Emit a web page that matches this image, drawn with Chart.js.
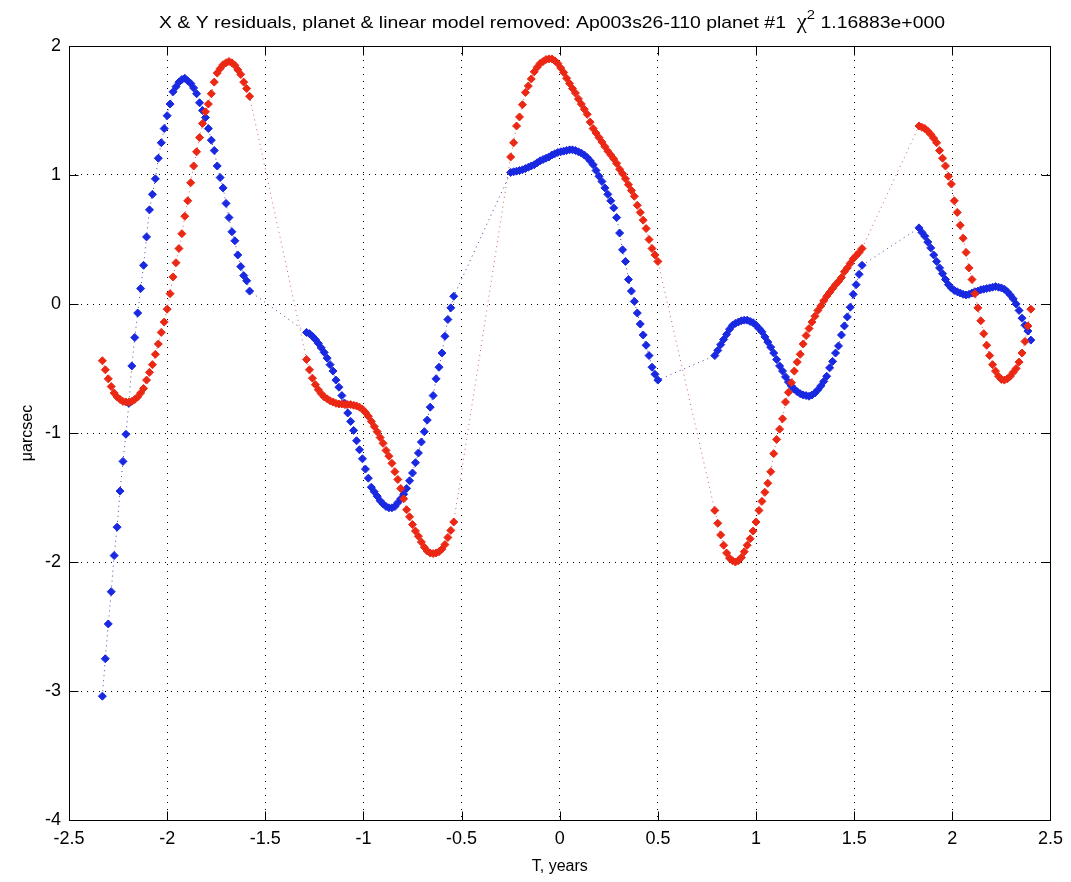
<!DOCTYPE html>
<html>
<head>
<meta charset="utf-8">
<title>X &amp; Y residuals</title>
<script src="https://cdn.jsdelivr.net/npm/chart.js@4.4.0/dist/chart.umd.min.js"></script>
<style>
  html, body { margin: 0; padding: 0; background: #fff; }
  canvas { display: block; }
</style>
</head>
<body>
<canvas id="grafica" width="1071" height="882"></canvas>
<script>
// Epocas de observacion (anos), cinco ventanas
const epocas = [
  -2.33,-2.315,-2.3,-2.285,-2.27,-2.255,-2.24,-2.225,-2.21,-2.195,
  -2.18,-2.165,-2.15,-2.135,-2.12,-2.105,-2.09,-2.075,-2.06,-2.045,
  -2.03,-2.015,-2,-1.985,-1.97,-1.955,-1.94,-1.925,-1.91,-1.895,
  -1.88,-1.865,-1.85,-1.835,-1.82,-1.805,-1.79,-1.775,-1.76,-1.745,
  -1.73,-1.715,-1.7,-1.685,-1.67,-1.655,-1.64,-1.625,-1.61,-1.595,-1.58,

  -1.29,-1.275,-1.26,-1.245,-1.23,-1.215,-1.2,-1.185,-1.17,-1.155,
  -1.14,-1.125,-1.11,-1.095,-1.08,-1.065,-1.05,-1.035,-1.02,-1.005,
  -0.99,-0.975,-0.96,-0.945,-0.93,-0.915,-0.9,-0.885,-0.87,-0.855,
  -0.84,-0.825,-0.81,-0.795,-0.78,-0.765,-0.75,-0.735,-0.72,-0.705,
  -0.69,-0.675,-0.66,-0.645,-0.63,-0.615,-0.6,-0.585,-0.57,-0.555,-0.54,

  -0.25,-0.235,-0.22,-0.205,-0.19,-0.175,-0.16,-0.145,-0.13,-0.115,
  -0.1,-0.085,-0.07,-0.055,-0.04,-0.025,-0.01,0.005,0.02,0.035,
  0.05,0.065,0.08,0.095,0.11,0.125,0.14,0.155,0.17,0.185,
  0.2,0.215,0.23,0.245,0.26,0.275,0.29,0.305,0.32,0.335,
  0.35,0.365,0.38,0.395,0.41,0.425,0.44,0.455,0.47,0.485,0.5,

  0.79,0.805,0.82,0.835,0.85,0.865,0.88,0.895,0.91,0.925,
  0.94,0.955,0.97,0.985,1,1.015,1.03,1.045,1.06,1.075,
  1.09,1.105,1.12,1.135,1.15,1.165,1.18,1.195,1.21,1.225,
  1.24,1.255,1.27,1.285,1.3,1.315,1.33,1.345,1.36,1.375,
  1.39,1.405,1.42,1.435,1.45,1.465,1.48,1.495,1.51,1.525,1.54,

  1.83,1.845,1.86,1.875,1.89,1.905,1.92,1.935,1.95,1.965,
  1.98,1.995,2.01,2.025,2.04,2.055,2.07,2.085,2.1,2.115,
  2.13,2.145,2.16,2.175,2.19,2.205,2.22,2.235,2.25,2.265,
  2.28,2.295,2.31,2.325,2.34,2.355,2.37,2.385,2.4
];

// Residuo en X (azul), microarcsec
const residuoX = [
  -3.04,-2.75,-2.48,-2.23,-1.95,-1.73,-1.45,-1.22,-1.01,-0.77,
  -0.48,-0.26,-0.07,0.12,0.30,0.52,0.73,0.85,0.97,1.13,
  1.25,1.36,1.46,1.55,1.645,1.685,1.72,1.74,1.75,1.73,
  1.71,1.675,1.63,1.56,1.50,1.445,1.36,1.27,1.19,1.07,
  0.98,0.90,0.78,0.67,0.56,0.49,0.38,0.29,0.22,0.18,0.10,

  -0.22,-0.23,-0.25,-0.275,-0.305,-0.34,-0.375,-0.42,-0.47,-0.52,
  -0.59,-0.645,-0.71,-0.77,-0.845,-0.91,-0.98,-1.06,-1.13,-1.20,
  -1.28,-1.35,-1.42,-1.455,-1.49,-1.525,-1.55,-1.57,-1.58,-1.58,
  -1.57,-1.54,-1.51,-1.475,-1.43,-1.37,-1.31,-1.23,-1.155,-1.07,
  -0.99,-0.90,-0.80,-0.71,-0.58,-0.49,-0.38,-0.25,-0.12,-0.03,0.06,

  1.02,1.025,1.03,1.035,1.04,1.05,1.06,1.07,1.08,1.095,
  1.11,1.12,1.13,1.14,1.155,1.165,1.175,1.18,1.185,1.19,
  1.195,1.195,1.19,1.18,1.17,1.155,1.135,1.11,1.08,1.035,
  0.99,0.95,0.90,0.85,0.80,0.745,0.67,0.55,0.42,0.33,
  0.19,0.10,0.02,-0.07,-0.155,-0.24,-0.32,-0.40,-0.49,-0.545,-0.59,

  -0.40,-0.36,-0.315,-0.275,-0.235,-0.195,-0.165,-0.15,-0.14,-0.13,
  -0.125,-0.125,-0.135,-0.145,-0.165,-0.19,-0.215,-0.255,-0.295,-0.335,
  -0.38,-0.43,-0.48,-0.52,-0.565,-0.605,-0.635,-0.66,-0.68,-0.695,
  -0.705,-0.71,-0.715,-0.705,-0.69,-0.665,-0.635,-0.60,-0.56,-0.495,
  -0.445,-0.38,-0.325,-0.24,-0.17,-0.10,-0.025,0.075,0.15,0.23,0.30,

  0.59,0.555,0.525,0.48,0.435,0.38,0.33,0.28,0.235,0.19,
  0.15,0.125,0.105,0.095,0.085,0.075,0.07,0.075,0.085,0.095,
  0.10,0.11,0.115,0.12,0.125,0.13,0.135,0.13,0.125,0.115,
  0.095,0.07,0.04,0.0,-0.05,-0.11,-0.165,-0.21,-0.28
];

// Residuo en Y (rojo), microarcsec
const residuoY = [
  -0.44,-0.51,-0.58,-0.64,-0.69,-0.72,-0.74,-0.755,-0.76,-0.76,
  -0.755,-0.74,-0.72,-0.69,-0.655,-0.59,-0.53,-0.47,-0.39,-0.31,
  -0.22,-0.14,-0.04,0.08,0.21,0.32,0.43,0.545,0.68,0.80,
  0.94,1.07,1.18,1.29,1.40,1.49,1.55,1.63,1.72,1.79,
  1.825,1.855,1.87,1.88,1.87,1.85,1.815,1.78,1.72,1.67,1.61,

  -0.43,-0.51,-0.575,-0.625,-0.665,-0.695,-0.72,-0.735,-0.75,-0.76,
  -0.77,-0.775,-0.775,-0.78,-0.78,-0.78,-0.785,-0.79,-0.80,-0.815,
  -0.84,-0.87,-0.91,-0.95,-0.99,-1.035,-1.08,-1.135,-1.18,-1.235,
  -1.30,-1.36,-1.43,-1.51,-1.595,-1.65,-1.71,-1.76,-1.80,-1.845,
  -1.885,-1.915,-1.93,-1.935,-1.93,-1.92,-1.90,-1.865,-1.81,-1.755,-1.69,

  1.14,1.25,1.38,1.45,1.545,1.64,1.69,1.745,1.80,1.835,
  1.865,1.88,1.895,1.90,1.90,1.885,1.865,1.83,1.795,1.75,
  1.71,1.67,1.635,1.59,1.55,1.51,1.47,1.41,1.36,1.325,
  1.29,1.255,1.22,1.185,1.155,1.125,1.09,1.045,1.01,0.97,
  0.925,0.88,0.835,0.765,0.71,0.65,0.585,0.50,0.43,0.38,0.33,

  -1.60,-1.70,-1.79,-1.87,-1.93,-1.97,-1.99,-2.00,-1.99,-1.965,
  -1.92,-1.87,-1.82,-1.76,-1.69,-1.60,-1.53,-1.46,-1.39,-1.30,
  -1.16,-1.05,-0.97,-0.89,-0.76,-0.685,-0.61,-0.52,-0.45,-0.39,
  -0.31,-0.245,-0.19,-0.14,-0.095,-0.05,-0.015,0.025,0.06,0.09,
  0.12,0.15,0.175,0.205,0.25,0.28,0.315,0.35,0.375,0.40,0.43,

  1.38,1.37,1.36,1.34,1.315,1.285,1.25,1.19,1.13,1.07,
  0.99,0.93,0.80,0.71,0.61,0.51,0.40,0.28,0.19,0.08,
  -0.03,-0.13,-0.23,-0.32,-0.40,-0.47,-0.52,-0.56,-0.585,-0.59,
  -0.58,-0.56,-0.53,-0.50,-0.45,-0.38,-0.29,-0.17,-0.04
];

const ticksX = [-2.5, -2, -1.5, -1, -0.5, 0, 0.5, 1, 1.5, 2, 2.5];
const ticksY = [-4, -3, -2, -1, 0, 1, 2];

const tituloTexto = 'X & Y residuals, planet & linear model removed: Ap003s26-110 planet #1  ';
const chi2Texto = ' 1.16883e+000';

const fuenteTicks = { family: '"Liberation Sans Narrow", "Liberation Sans", Arial, sans-serif', size: 18 };
const fuenteEtiq = { family: '"Liberation Sans", Arial, sans-serif', size: 16 };

function puntos(valores) {
    return epocas.map((t, i) => ({ x: t, y: valores[i] }));
}

// Titulo con chi al cuadrado (superindice)
const tituloPlugin = {
    id: 'tituloChi',
    afterDraw(chart) {
        const c = chart.ctx;
        const partes = [
            { txt: tituloTexto, font: '17px "Liberation Sans", Arial, sans-serif', dy: 0 },
            { txt: 'χ', font: '20px "Liberation Serif", "DejaVu Serif", serif', dy: 0 },
            { txt: '2', font: '13px "Liberation Sans", Arial, sans-serif', dy: -9 },
            { txt: chi2Texto, font: '17px "Liberation Sans", Arial, sans-serif', dy: 0 }
        ];
        let total = 0;
        partes.forEach(p => { c.font = p.font; p.w = c.measureText(p.txt).width; total += p.w; });
        c.save();
        c.translate(159, 28);
        c.scale(786 / total, 1);
        c.fillStyle = '#000';
        c.textBaseline = 'alphabetic';
        let x = 0;
        partes.forEach(p => { c.font = p.font; c.fillText(p.txt, x, p.dy); x += p.w; });
        c.restore();
    }
};

// Marco de los ejes con marcas hacia dentro
const marcoPlugin = {
    id: 'marco',
    afterDatasetsDraw(chart) {
        const c = chart.ctx;
        const a = chart.chartArea;
        const sx = chart.scales.x, sy = chart.scales.y;
        const L = Math.round(a.left) + 0.5, R = Math.round(a.right) + 0.5;
        const T = Math.round(a.top) + 0.5, B = Math.round(a.bottom) + 0.5;
        c.save();
        c.strokeStyle = '#000';
        c.lineWidth = 1;
        c.setLineDash([]);
        c.beginPath();
        ticksX.forEach(v => {
            const px = Math.round(sx.getPixelForValue(v)) + 0.5;
            c.moveTo(px, B); c.lineTo(px, B - 9);
            c.moveTo(px, T); c.lineTo(px, T + 9);
        });
        ticksY.forEach(v => {
            const py = Math.round(sy.getPixelForValue(v)) + 0.5;
            c.moveTo(L, py); c.lineTo(L + 9, py);
            c.moveTo(R, py); c.lineTo(R - 9, py);
        });
        c.stroke();
        c.strokeRect(L, T, R - L, B - T);
        c.restore();
    }
};

const ctx = document.getElementById('grafica').getContext('2d');

new Chart(ctx, {
    type: 'scatter',
    data: {
        datasets: [
            {
                label: 'Y',
                data: puntos(residuoY),
                order: 0,
                showLine: true,
                borderColor: 'rgba(200, 70, 70, 0.85)',
                borderWidth: 1,
                borderDash: [1, 4],
                pointStyle: 'rectRot',
                pointRadius: 4,
                pointBorderWidth: 1,
                pointBackgroundColor: 'rgb(235, 40, 20)',
                pointBorderColor: 'rgb(235, 40, 20)'
            },
            {
                label: 'X',
                data: puntos(residuoX),
                order: 1,
                showLine: true,
                borderColor: 'rgba(40, 40, 150, 0.85)',
                borderWidth: 1,
                borderDash: [1, 4],
                pointStyle: 'rectRot',
                pointRadius: 4,
                pointBorderWidth: 1,
                pointBackgroundColor: 'rgb(25, 40, 225)',
                pointBorderColor: 'rgb(25, 40, 225)'
            }
        ]
    },
    options: {
        responsive: false,
        animation: false,
        devicePixelRatio: 1,
        layout: { padding: { left: 0, right: 19, top: 46, bottom: 0 } },
        plugins: {
            legend: { display: false },
            title: { display: false },
            tooltip: { enabled: false }
        },
        scales: {
            x: {
                type: 'linear',
                min: -2.5,
                max: 2.5,
                afterBuildTicks: s => { s.ticks = ticksX.map(v => ({ value: v })); },
                afterFit: s => { s.height = 62; },
                ticks: {
                    color: '#000',
                    font: fuenteTicks,
                    padding: 8,
                    maxRotation: 0,
                    autoSkip: false,
                    callback: v => String(v)
                },
                grid: { color: '#000', lineWidth: 1, drawTicks: false },
                border: { display: false, dash: [1, 6] },
                title: { display: true, text: 'T, years', color: '#000', font: fuenteEtiq, padding: { top: 0, bottom: 6 } }
            },
            y: {
                type: 'linear',
                min: -4,
                max: 2,
                afterBuildTicks: s => { s.ticks = ticksY.map(v => ({ value: v })); },
                afterFit: s => { s.width = 69; },
                ticks: {
                    color: '#000',
                    font: fuenteTicks,
                    padding: 8,
                    autoSkip: false,
                    callback: v => String(v)
                },
                grid: { color: '#000', lineWidth: 1, drawTicks: false },
                border: { display: false, dash: [1, 5] },
                title: { display: true, text: 'μarcsec', color: '#000', font: fuenteEtiq, padding: { top: 18, bottom: 0 } }
            }
        }
    },
    plugins: [tituloPlugin, marcoPlugin]
});
</script>
</body>
</html>
